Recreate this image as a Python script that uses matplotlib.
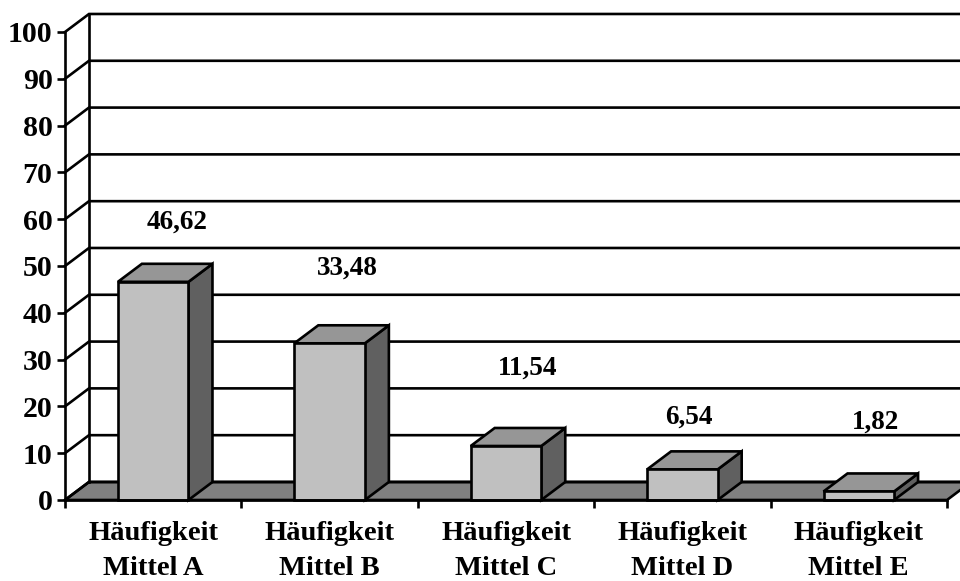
import matplotlib
matplotlib.use("Agg")
import matplotlib.pyplot as plt
from matplotlib.patches import Polygon, Rectangle

# data
categories = ["Häufigkeit\nMittel A", "Häufigkeit\nMittel B", "Häufigkeit\nMittel C",
              "Häufigkeit\nMittel D", "Häufigkeit\nMittel E"]
values = [46.62, 33.48, 11.54, 6.54, 1.82]
value_labels = ["46,62", "33,48", "11,54", "6,54", "1,82"]

# where each value label sits relative to its bar (category units, value units)
label_nudge_x = [0.135, 0.10, 0.125, 0.037, 0.097]
label_nudge_y = [12.8, 16.1, 16.7, 11.2, 14.8]

# ── styling ──────────────────────────────────────────────────────────────────
FONT = "Liberation Serif"
FRONT = "#C0C0C0"
TOP = "#969696"
SIDE = "#606060"
FLOOR = "#808080"
DX, DY = 0.136, 3.85       # depth offset of the 3D box (data units)
BAR_W = 0.40
LW = 1.9

plt.rcParams["font.family"] = FONT
plt.rcParams["font.weight"] = "bold"

fig = plt.figure(figsize=(9.6, 5.81), dpi=100)
ax = fig.add_axes([65 / 960, 81 / 581, 882 / 960, 468 / 581])
ax.set_xlim(0, len(values))
ax.set_ylim(0, 100)
ax.patch.set_visible(False)

n = len(values)

# floor
ax.add_patch(Polygon([(0, 0), (n, 0), (n + DX, DY), (DX, DY)], closed=True,
                     facecolor=FLOOR, edgecolor="black", lw=LW, clip_on=False, zorder=1))

# back wall gridlines + side wall diagonals
for y in range(0, 101, 10):
    ax.plot([0, DX, n + 2 * DX], [y, y + DY, y + DY], color="black", lw=LW,
            clip_on=False, zorder=1.5, solid_joinstyle="miter")
ax.plot([DX, DX], [DY, 100 + DY], color="black", lw=LW, clip_on=False, zorder=1.5)

# bars
for i, v in enumerate(values):
    x0 = i + 0.5 - BAR_W / 2
    x1 = i + 0.5 + BAR_W / 2
    ax.add_patch(Polygon([(x1, 0), (x1 + DX, DY), (x1 + DX, v + DY), (x1, v)],
                         closed=True, facecolor=SIDE, edgecolor="black", lw=LW,
                         clip_on=False, zorder=3, joinstyle="miter"))
    ax.add_patch(Polygon([(x0, v), (x1, v), (x1 + DX, v + DY), (x0 + DX, v + DY)],
                         closed=True, facecolor=TOP, edgecolor="black", lw=LW,
                         clip_on=False, zorder=3, joinstyle="miter"))
    ax.add_patch(Rectangle((x0, 0), BAR_W, v, facecolor=FRONT, edgecolor="black",
                           lw=LW, clip_on=False, zorder=4, joinstyle="miter"))
    ax.text(i + 0.5 + label_nudge_x[i], v + label_nudge_y[i], value_labels[i],
            ha="center", va="center", fontsize=19.5, fontweight="bold", zorder=5)

# axes
for s in ["top", "right"]:
    ax.spines[s].set_visible(False)
for s in ["left", "bottom"]:
    ax.spines[s].set_linewidth(LW)
    ax.spines[s].set_zorder(6)

ax.set_yticks(range(0, 101, 10))
ax.set_yticklabels([str(t) for t in range(0, 101, 10)], fontsize=21.5, fontweight="bold")
ax.set_xticks(range(n + 1))
ax.set_xticklabels([])
ax.set_xticks([i + 0.5 for i in range(n)], minor=True)
ax.set_xticklabels(categories, minor=True, fontsize=20.5, fontweight="bold",
                   linespacing=1.55)
ax.tick_params(axis="y", length=6, width=LW, pad=3)
ax.tick_params(axis="x", which="major", length=6, width=LW)
ax.tick_params(axis="x", which="minor", length=0, pad=15)

fig.savefig("out.png", dpi=100)
